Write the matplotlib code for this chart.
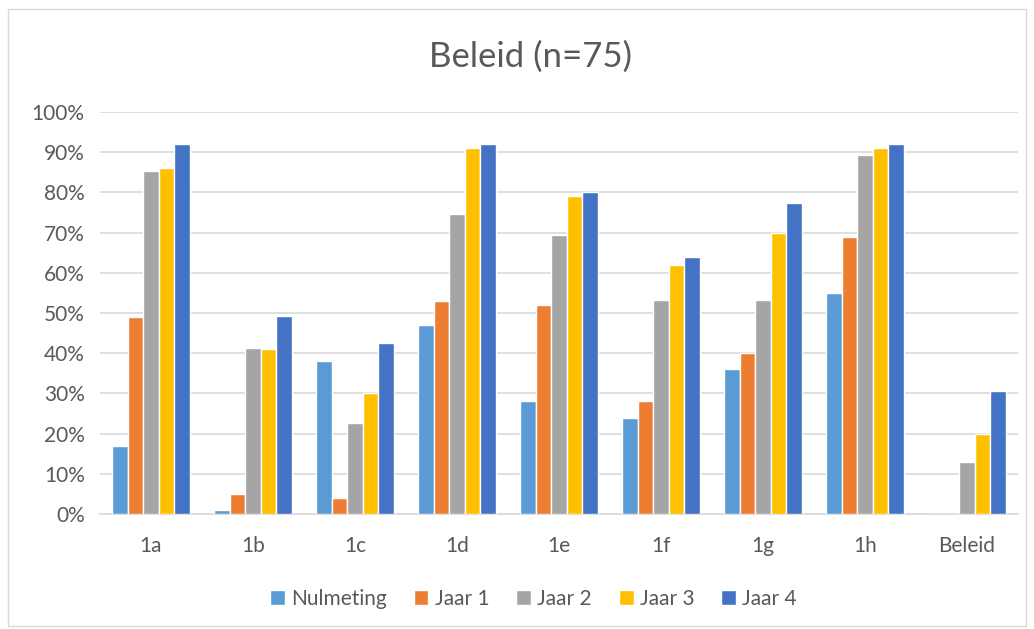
import matplotlib
matplotlib.use("Agg")
import matplotlib.pyplot as plt
import numpy as np
from matplotlib.patches import Rectangle
from matplotlib.ticker import PercentFormatter

plt.rcParams['font.family'] = ['Lato', 'DejaVu Sans']

categories = ['1a', '1b', '1c', '1d', '1e', '1f', '1g', '1h', 'Beleid']
series = ['Nulmeting', 'Jaar 1', 'Jaar 2', 'Jaar 3', 'Jaar 4']
nulmeting = [17, 1, 38, 47, 28, 24, 36, 55, 0]
jaar1 = [49, 5, 4, 53, 52, 28, 40, 69, 0]
jaar2 = [85.4, 41.2, 22.6, 74.7, 69.4, 53.3, 53.3, 89.4, 12.9]
jaar3 = [86, 41, 30, 91, 79, 62, 70, 91, 20]
jaar4 = [92, 49.3, 42.6, 92, 80, 64, 77.3, 92, 30.6]
colors = ['#5B9BD5', '#ED7D31', '#A5A5A5', '#FFC000', '#4472C4']

values = [nulmeting, jaar1, jaar2, jaar3, jaar4]
text_col = '#595959'

fig = plt.figure(figsize=(10.34, 6.29), dpi=100)
ax = fig.add_axes([0.0967, 0.1828, 0.8878, 0.6392])

x = np.arange(len(categories))
step = 0.153
for i, (name, vals) in enumerate(zip(series, values)):
    ax.bar(x + (i - 2) * step, np.array(vals) / 100, width=step,
           color=colors[i], edgecolor='white', linewidth=1.0, label=name, zorder=3)

ax.set_xlim(-0.5, len(categories) - 0.5)
ax.set_ylim(0, 1)
ax.set_yticks(np.arange(0, 1.01, 0.1))
ax.yaxis.set_major_formatter(PercentFormatter(1.0, decimals=0))
ax.set_xticks(x)
ax.set_xticklabels(categories)
ax.grid(axis='y', color='#D9D9D9', linewidth=1.2, zorder=0)
for s in ['top', 'right', 'left']:
    ax.spines[s].set_visible(False)
ax.spines['bottom'].set_color('#D9D9D9')
ax.spines['bottom'].set_linewidth(1.2)
ax.tick_params(axis='both', length=0, labelsize=15, colors=text_col)
ax.tick_params(axis='x', pad=16)
ax.tick_params(axis='y', pad=11)

fig.text(0.513, 0.91, 'Beleid (n=75)', ha='center', va='center',
         fontsize=25, color=text_col)

fig.legend(loc='center', bbox_to_anchor=(0.516, 0.048), ncol=5, frameon=False,
           fontsize=15, handlelength=0.7, handleheight=0.7, handletextpad=0.3,
           columnspacing=1.3, labelcolor=text_col)

fig.patches.append(Rectangle((0.008, 0.005), 0.984, 0.98, transform=fig.transFigure,
                             fill=False, edgecolor='#D9D9D9', linewidth=1))

fig.savefig('out.png', dpi=100)
